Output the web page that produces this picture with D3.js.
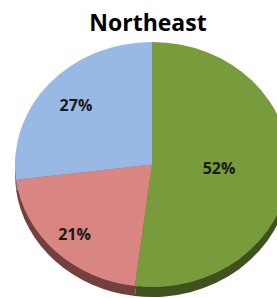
<!DOCTYPE html>
<html>
<head>
<meta charset="utf-8">
<script src="https://cdn.jsdelivr.net/npm/d3@7"></script>
<style>
  body { margin: 0; background: #fff; }
  svg text { font-family: "Open Sans", "Liberation Sans", sans-serif; font-weight: 700; }
</style>
</head>
<body>
<div id="chart"></div>
<script>
// data
const regions = ["Green", "Red", "Blue"];
const shares = [52, 21, 27];
const labels = ["52%", "21%", "27%"];
const title = "Northeast";

const width = 277, height = 298;
const cx = 152, cy = 164.5, rx = 137, ry = 122.5, depth = 10;
// how far out each label sits (fraction of the radius), like excel put them
const labelRadius = [0.49, 0.8, 0.74];

const topColors = ["#789b3b", "#d98683", "#97b9e3"];
const sideColors = ["#3e521d", "#74403e", "#5a7391"];

const svg = d3.select("#chart").append("svg")
    .attr("width", width)
    .attr("height", height);

const pie = d3.pie().sort(null).value(d => d)(shares);

// use a unit arc and squash it into an ellipse
const arc = d3.arc().innerRadius(0).outerRadius(1);

// side wall: the same slices pushed down a bit, drawn first
svg.append("g")
    .attr("transform", `translate(${cx},${cy + depth}) scale(${rx},${ry})`)
    .selectAll("path")
    .data(pie)
    .join("path")
    .attr("d", arc)
    .attr("fill", (d, i) => sideColors[i]);

// top face
svg.append("g")
    .attr("transform", `translate(${cx},${cy}) scale(${rx},${ry})`)
    .selectAll("path")
    .data(pie)
    .join("path")
    .attr("d", arc)
    .attr("fill", (d, i) => topColors[i]);

// percent labels
svg.append("g")
    .selectAll("text")
    .data(pie)
    .join("text")
    .attr("x", (d, i) => {
        const a = (d.startAngle + d.endAngle) / 2;
        return cx + Math.sin(a) * labelRadius[i] * rx;
    })
    .attr("y", (d, i) => {
        const a = (d.startAngle + d.endAngle) / 2;
        return cy - Math.cos(a) * labelRadius[i] * ry;
    })
    .attr("text-anchor", "middle")
    .attr("dominant-baseline", "central")
    .attr("font-size", 16)
    .attr("fill", "#1a1a1a")
    .text((d, i) => labels[i]);

svg.append("text")
    .attr("x", 148)
    .attr("y", 31)
    .attr("text-anchor", "middle")
    .attr("font-size", 23)
    .attr("fill", "#000")
    .text(title);
</script>
</body>
</html>
